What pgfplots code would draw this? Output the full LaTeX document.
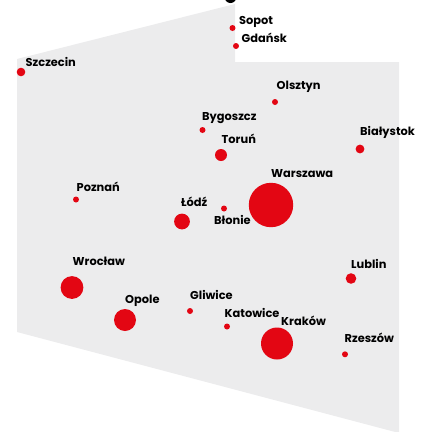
\documentclass[border=0pt]{standalone}
\usepackage{pgfplots}
\usepackage{fontspec}
\setmainfont{Poppins}
\pgfplotsset{compat=1.18}
\definecolor{cred}{RGB}{227,6,19}
\definecolor{cgray}{RGB}{236,236,237}
\pgfdeclareplotmark{disc}{\pgfpathcircle{\pgfpointorigin}{\pgfplotmarksize}\pgfusepathqfill}
\newcommand{\lab}[3]{\node[anchor=base west,inner sep=0pt,text=black,font=\fontsize{11.4}{11.4}\selectfont\bfseries] at (axis cs:#1,#2) {#3};}
\begin{document}
\begin{tikzpicture}
\useasboundingbox (0,0) rectangle (428pt,432pt);
\clip (0,0) rectangle (428pt,432pt);
\begin{axis}[at={(0,0)},anchor=south west,scale only axis,width=428pt,height=442pt,
  xmin=0,xmax=428,ymin=-10,ymax=432,y dir=reverse,hide axis,clip=true]
\addplot[fill=cgray,draw=none] coordinates {(17,59) (235,4) (235,62) (399,62) (399,433) (17,332)} --cycle;
\addplot[scatter,only marks,mark=disc,point meta=y,
  visualization depends on={\thisrow{r}\as\rr},
  scatter/@pre marker code/.code={\pgfkeys{/pgf/fpu=false}\pgfmathsetlength{\pgfplotmarksize}{\rr}\scope\pgfsetfillcolor{cred}},
  scatter/@post marker code/.code={\endscope}] table {
x y r
21 72 4.3
232.5 28 3
236 46 3
275 102 3
202.5 130 3
221 155 6
360 149 4.4
271 205 22.2
76 199.5 3
224 208.5 3
182 221.5 7.9
72 287.5 11.4
125 320 11
190 311 3
227 326.5 3
277 343.5 16
351 278.5 5.3
345 354.3 3
};
\addplot[only marks,mark=disc,mark size=6pt,color=black,mark options={fill=black}] coordinates {(230.5,-3)};
\lab{239}{24.3}{Sopot}
\lab{241.5}{42.5}{Gdańsk}
\lab{25.5}{66.7}{Szczecin}
\lab{276.5}{89}{Olsztyn}
\lab{202}{120}{Bygoszcz}
\lab{221.5}{143.3}{Toruń}
\lab{360}{135.7}{Białystok}
\lab{271}{177.7}{Warszawa}
\lab{76.5}{191.7}{Poznań}
\lab{181}{206}{Łódź}
\lab{214}{224.3}{Błonie}
\lab{72.5}{265.3}{Wrocław}
\lab{125}{303.3}{Opole}
\lab{190}{299.3}{Gliwice}
\lab{224.5}{317.7}{Katowice}
\lab{281}{325.3}{Kraków}
\lab{351}{268.3}{Lublin}
\lab{344.5}{342.7}{Rzeszów}
\end{axis}
\end{tikzpicture}
\end{document}
